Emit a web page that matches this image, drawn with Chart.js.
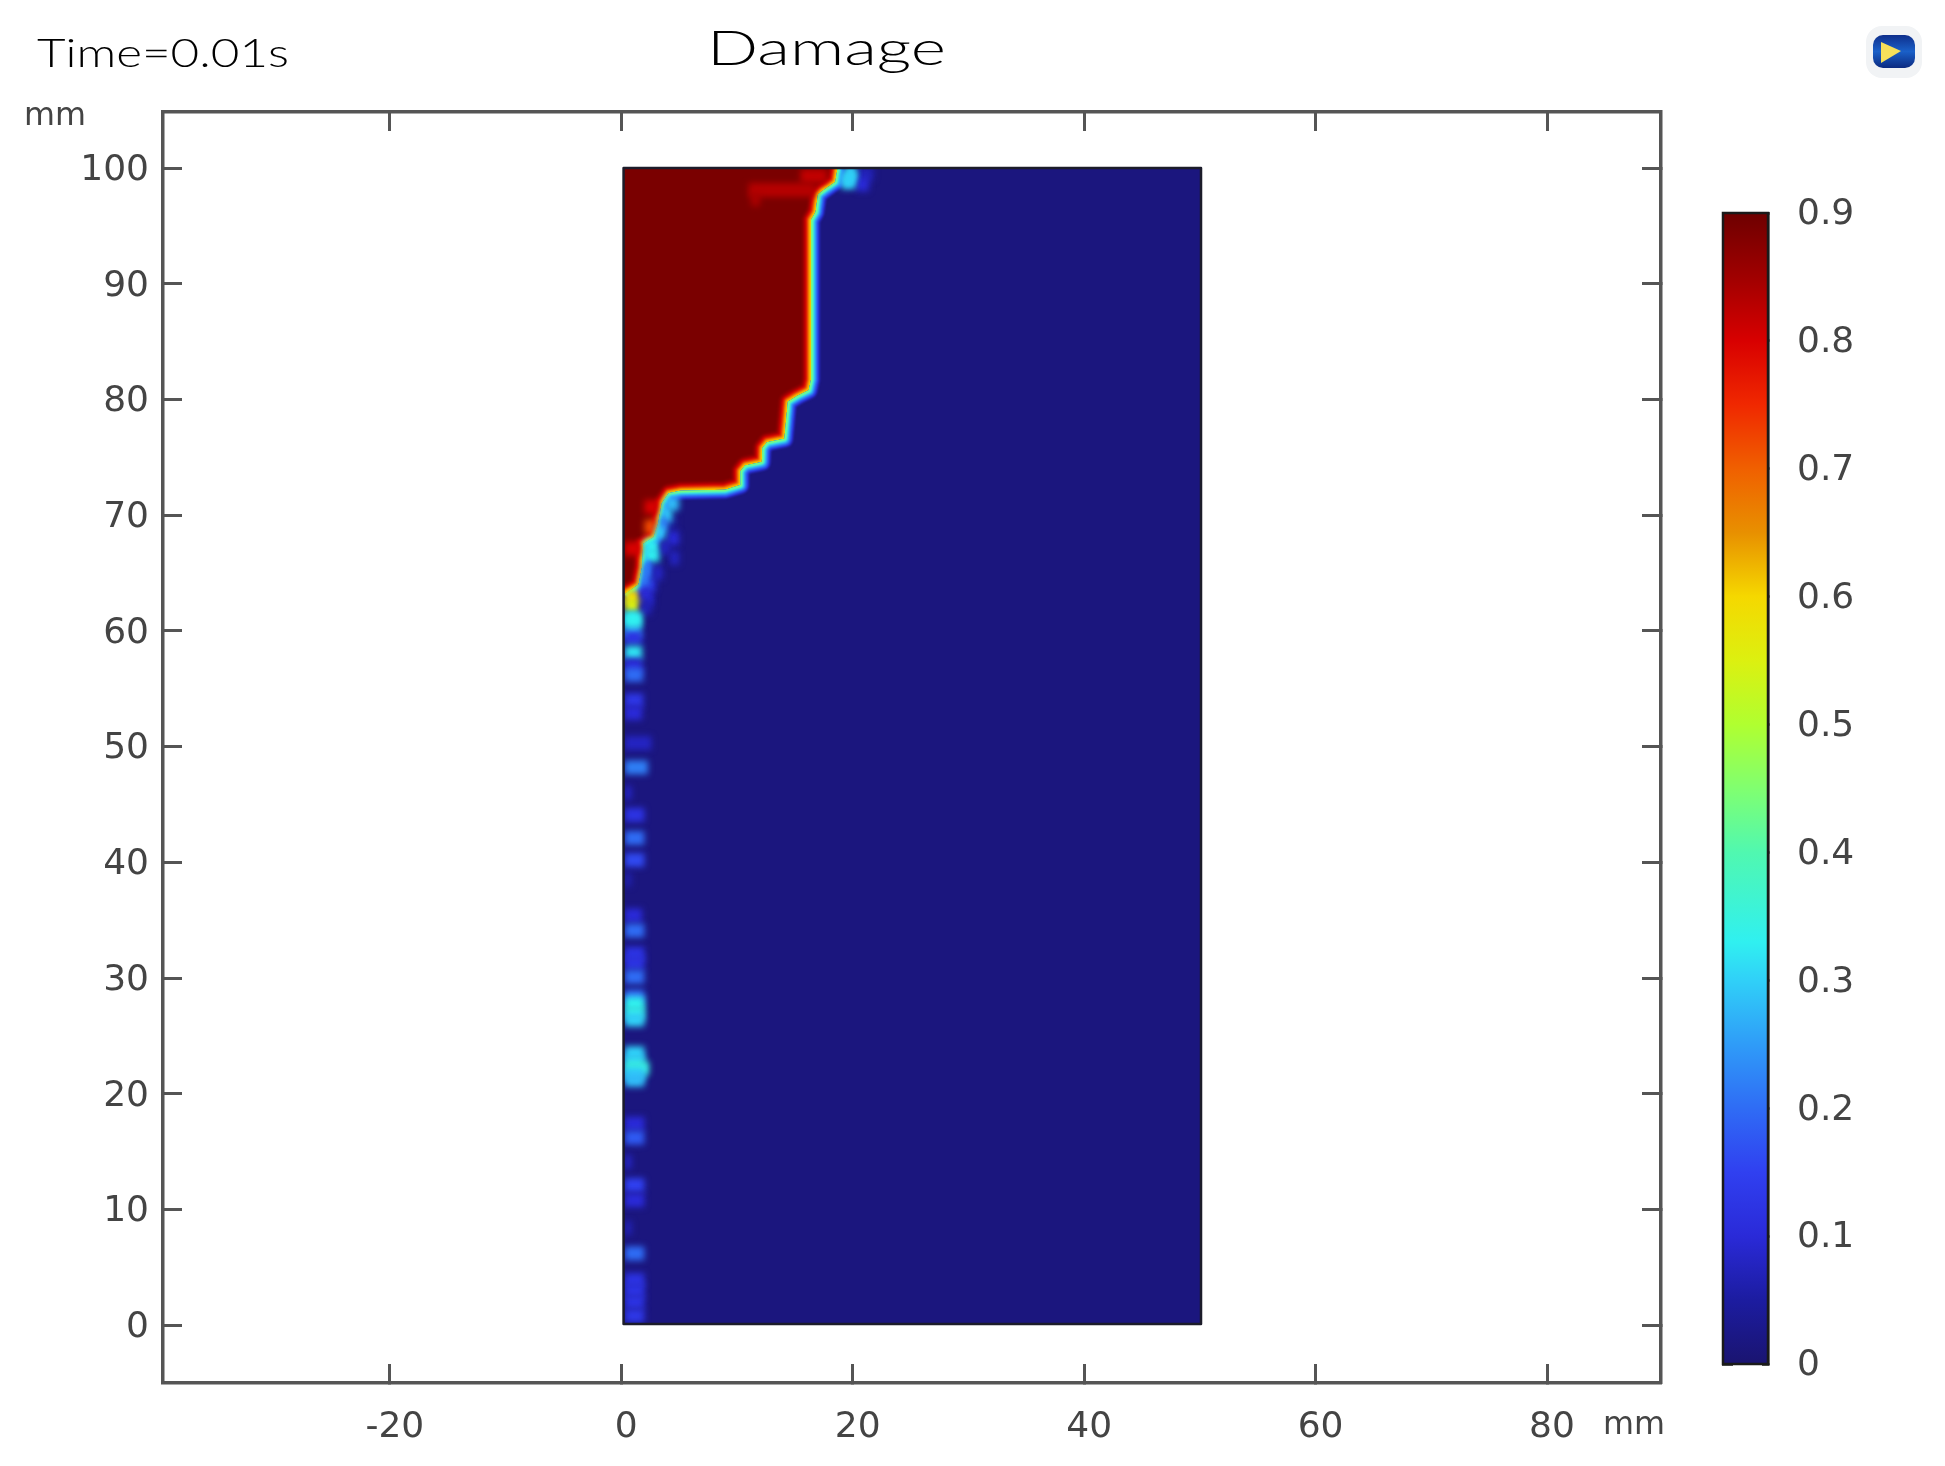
<!DOCTYPE html>
<html>
<head>
<meta charset="utf-8">
<style>
  html, body { margin: 0; padding: 0; background: #fff; }
  #wrap { position: relative; width: 1945px; height: 1466px; overflow: hidden; }
  canvas { position: absolute; left: 0; top: 0; filter: blur(0.6px); }
</style>
<script src="https://cdn.jsdelivr.net/npm/chart.js@4/dist/chart.umd.js"></script>
</head>
<body>
<div id="wrap">
  <canvas id="field" width="1945" height="1466"></canvas>
  <canvas id="legend" width="1945" height="1466"></canvas>
</div>
<script>
// axis ticks, mm
const xTickValues = [-20, 0, 20, 40, 60, 80];
const yTickValues = [0, 10, 20, 30, 40, 50, 60, 70, 80, 90, 100];
const colorTickValues = [0, 0.1, 0.2, 0.3, 0.4, 0.5, 0.6, 0.7, 0.8, 0.9];

// colour table
const colorValues = [0, 0.05, 0.1, 0.15, 0.2, 0.25, 0.3, 0.33, 0.4, 0.45, 0.5, 0.55, 0.6, 0.65, 0.7, 0.75, 0.8, 0.85, 0.9];
const colorStops = ['#1a1470', '#1c1ca0', '#2a2ad8', '#3040f0', '#2f6cf5', '#2f9cf8', '#30d0f8', '#30f0f0', '#50f8b0', '#80ff70',
  '#b0ff30', '#dcf010', '#f5d800', '#e89000', '#f06000', '#f02800', '#d80000', '#a00000', '#6e0000'];

// specimen outline, mm
const plateX = [0.2, 50.1, 50.1, 0.2];
const plateY = [0.1, 0.1, 100, 100];

// damage front, from the top edge down to the left edge
const frontX = [18.7, 18.5, 17.5, 17.0, 16.8, 16.4, 16.4, 16.2, 15.2, 14.4, 14.25, 14.1, 12.6, 12.2, 12.15, 10.7, 10.3, 10.3, 9.0, 5.1, 4.1, 3.5, 3.2, 2.8, 1.9, 1.8, 1.5, 0.8, 0.35];
const frontY = [100, 98.8, 98.1, 97.7, 96.2, 95.5, 81.7, 80.8, 80.3, 79.8, 78.2, 76.6, 76.3, 75.8, 74.6, 74.3, 73.8, 72.6, 72.2, 72.1, 71.9, 71.0, 69.3, 68.1, 67.5, 65.5, 64.0, 63.5, 63.2];

// short damaged patches: height, start, end, damage value
const patchY = [99.5, 99.1, 99.3, 98.1, 97.3, 71.0, 69.3, 68.0, 66.3, 70.7, 69.0, 67.3, 66.5, 67.1, 65.3, 64.0, 62.7,
  62.9, 62.2, 61.0, 60.0, 59.4, 58.1, 57.0, 56.2, 54.0, 52.9, 50.3, 48.2, 46.0, 44.1, 42.1, 40.2, 38.5, 35.4, 34.1, 32.1, 31.3, 30.1, 28.4,
  27.8, 27.0, 26.4, 23.5, 22.8, 22.2, 21.7, 21.2, 17.4, 16.2, 14.1, 12.1, 10.8, 8.4, 6.2, 3.9, 3.0, 2.0, 0.8,
  98.6, 98.8, 99.6, 70.0, 69.2, 68.4, 65.2, 64.2, 63.2, 62.0, 65.0, 67.2, 61.0];
const patchStart = [20.4, 19.2, 15.5, 11.0, 11.2, 3.8, 3.8, 4.0, 4.2, 2.0, 2.0, 2.0, 2.0, 0.3, 2.0, 2.0, 2.0,
  0.3, 0.3, 0.3, 0.3, 0.3, 0.3, 0.3, 0.3, 0.3, 0.3, 0.3, 0.3, 0.3, 0.3, 0.3, 0.3, 0.3, 0.3, 0.3, 0.3, 0.3, 0.3, 0.3,
  0.3, 0.3, 0.3, 0.3, 0.3, 0.3, 0.3, 0.3, 0.3, 0.3, 0.3, 0.3, 0.3, 0.3, 0.3, 0.3, 0.3, 0.3, 0.3,
  20.3, 19.0, 19.3, 3.5, 3.3, 3.0, 1.9, 1.7, 1.6, 1.6, 2.7, 3.4, 0.3];
const patchEnd = [21.8, 20.3, 17.8, 16.8, 12.0, 5.0, 4.8, 5.0, 5.0, 3.2, 3.0, 3.3, 3.3, 1.7, 2.6, 3.0, 2.8,
  1.6, 1.6, 1.6, 1.7, 1.8, 1.8, 1.8, 1.9, 1.9, 1.8, 2.6, 2.3, 0.9, 2.0, 2.0, 2.0, 0.9, 1.8, 2.0, 2.0, 2.0, 2.0, 2.0,
  2.0, 2.0, 2.0, 2.0, 2.0, 2.4, 2.0, 2.0, 2.0, 2.0, 0.9, 2.0, 2.0, 0.9, 2.0, 2.0, 2.0, 2.0, 2.0,
  21.4, 20.2, 20.3, 4.4, 4.0, 3.8, 2.7, 2.4, 2.6, 2.6, 3.6, 4.2, 1.8];
const patchValue = [0.07, 0.32, 0.82, 0.83, 0.84, 0.28, 0.04, 0.1, 0.08, 0.8, 0.72, 0.33, 0.33, 0.8, 0.2, 0.12, 0.08,
  0.6, 0.55, 0.33, 0.28, 0.12, 0.32, 0.1, 0.2, 0.13, 0.1, 0.08, 0.22, 0.08, 0.12, 0.2, 0.16, 0.06, 0.1, 0.2, 0.12, 0.12, 0.2, 0.2,
  0.33, 0.34, 0.3, 0.3, 0.3, 0.35, 0.3, 0.28, 0.1, 0.18, 0.08, 0.15, 0.1, 0.07, 0.2, 0.12, 0.12, 0.12, 0.13,
  0.1, 0.3, 0.3, 0.3, 0.22, 0.3, 0.22, 0.22, 0.1, 0.07, 0.08, 0.08, 0.33];

const xMin = -39.6, xMax = 89.85, yMin = -5, yMax = 104.84;
const frameColor = '#555';
const labelColor = '#444';
const labelFont = { family: 'DejaVu Sans', size: 36 };

function hexRgb(h) {
  return [1, 3, 5].map(i => parseInt(h.slice(i, i + 2), 16));
}

// look a damage value up in the legend table
function damageColor(v) {
  let i = 0;
  while (i < colorValues.length - 2 && v > colorValues[i + 1]) i++;
  const t = Math.min(1, Math.max(0, (v - colorValues[i]) / (colorValues[i + 1] - colorValues[i])));
  const a = hexRgb(colorStops[i]), b = hexRgb(colorStops[i + 1]);
  return `rgb(${a.map((c, k) => Math.round(c + (b[k] - c) * t)).join(',')})`;
}

const toPoints = (xs, ys) => xs.map((x, i) => ({ x, y: ys[i] }));
const front = toPoints(frontX, frontY);
const plate = toPoints(plateX, plateY);
const damagedPoly = [{ x: plateX[0], y: 100 }, ...front, { x: plateX[0], y: frontY[frontY.length - 1] }];
const intactPoly = [...front, { x: plateX[0], y: frontY[frontY.length - 1] }, { x: plateX[0], y: 0 }, { x: plateX[1], y: 0 }, { x: plateX[1], y: 100 }];

const patchPoints = [];
patchY.forEach((y, i) => {
  patchPoints.push({ x: patchStart[i], y, v: patchValue[i] }, { x: patchEnd[i], y, v: patchValue[i] }, { x: null, y: null });
});

const base = { showLine: true, pointRadius: 0, pointHoverRadius: 0, borderJoinStyle: 'round', borderCapStyle: 'butt', tension: 0 };
const filled = (data, color) => ({ ...base, data, fill: 'shape', backgroundColor: color, borderWidth: 0 });
const frontBand = (color, width, clipTo) => ({ ...base, data: front, borderColor: color, borderWidth: width, fill: false, clipTo, blur: 1.3 });

// paint order, bottom layer first
const layers = [
  filled(plate, damageColor(0.015)),
  filled(damagedPoly, '#7a0000'),
  frontBand(damageColor(0.86), 18, damagedPoly),
  frontBand(damageColor(0.8), 13, damagedPoly),
  frontBand(damageColor(0.7), 8, damagedPoly),
  frontBand(damageColor(0.6), 3.5, damagedPoly),
  frontBand(damageColor(0.12), 17, intactPoly),
  frontBand(damageColor(0.23), 12, intactPoly),
  frontBand(damageColor(0.33), 7, intactPoly),
  frontBand(damageColor(0.47), 3, intactPoly),
  {
    ...base, data: patchPoints, fill: false, borderWidth: 14, blur: 3.2, spanGaps: false, borderColor: '#000',
    segment: { borderColor: c => damageColor(patchPoints[c.p0DataIndex].v) }
  },
  { ...base, data: [...plate, plate[0]], fill: false, borderColor: '#1c1c2a', borderWidth: 2.5, blur: 0.5, noClip: true }
];

function tracePoly(chart, poly) {
  const { x, y } = chart.scales;
  const ctx = chart.ctx;
  ctx.beginPath();
  poly.forEach((p, i) => {
    const px = x.getPixelForValue(p.x), py = y.getPixelForValue(p.y);
    if (i === 0) ctx.moveTo(px, py); else ctx.lineTo(px, py);
  });
  ctx.closePath();
}

// clip each layer to the plate (and its side of the front) and soften it like the resampled image
const softLayers = {
  id: 'softLayers',
  beforeDatasetDraw(chart, args) {
    const ds = chart.data.datasets[args.index];
    const ctx = chart.ctx;
    ctx.save();
    if (!ds.noClip) {
      tracePoly(chart, plate);
      ctx.clip();
    }
    if (ds.clipTo) {
      tracePoly(chart, ds.clipTo);
      ctx.clip();
    }
    if (ds.blur) ctx.filter = `blur(${ds.blur}px)`;
  },
  afterDatasetDraw(chart) {
    chart.ctx.restore();
  }
};

// stretched wide caption, fitted to the width it has in the figure
function wideText(ctx, text, left, width, baseline, font, color) {
  ctx.save();
  ctx.font = font;
  ctx.fillStyle = color;
  ctx.textAlign = 'left';
  ctx.textBaseline = 'alphabetic';
  const sx = width / ctx.measureText(text).width;
  ctx.translate(left, baseline);
  ctx.scale(sx, 1);
  ctx.fillText(text, 0, 0);
  ctx.restore();
}

const captions = {
  id: 'captions',
  afterDraw(chart) {
    const ctx = chart.ctx;
    wideText(ctx, 'Time=0.01s', 37, 252, 67, '300 39px Lato', '#000');
    wideText(ctx, 'Damage', 707, 239, 65, '300 48px Lato', '#000');
    wideText(ctx, 'mm', 24, 62, 125, '32px "DejaVu Sans"', labelColor);
    wideText(ctx, 'mm', 1603, 62, 1434, '32px "DejaVu Sans"', labelColor);

    // software badge, top right
    ctx.save();
    ctx.fillStyle = '#f1f3f5';
    ctx.beginPath();
    ctx.roundRect(1866, 26, 56, 52, 16);
    ctx.fill();
    const g = ctx.createLinearGradient(0, 35, 0, 68);
    g.addColorStop(0, '#0f2f8c');
    g.addColorStop(0.5, '#1a60c8');
    g.addColorStop(1, '#0c2a80');
    ctx.fillStyle = g;
    ctx.beginPath();
    ctx.roundRect(1873, 35, 42, 33, 10);
    ctx.fill();
    ctx.fillStyle = '#f6e05a';
    ctx.beginPath();
    ctx.moveTo(1881, 42);
    ctx.lineTo(1901, 51);
    ctx.lineTo(1881, 63);
    ctx.closePath();
    ctx.fill();
    ctx.restore();
  }
};

const tickSet = values => function (scale) {
  scale.ticks = values.map(value => ({ value }));
};

const frameGrid = { drawOnChartArea: false, drawTicks: true, tickLength: -19, tickWidth: 3, tickColor: frameColor };
const frameBorder = { display: true, color: frameColor, width: 3.5 };

new Chart(document.getElementById('field'), {
  type: 'scatter',
  data: { datasets: layers.slice().reverse() },
  options: {
    responsive: false,
    animation: false,
    devicePixelRatio: 1,
    layout: { padding: { left: 0, right: 284, top: 112, bottom: 0 } },
    plugins: { legend: { display: false }, tooltip: { enabled: false } },
    scales: {
      x: {
        type: 'linear', position: 'bottom', min: xMin, max: xMax,
        afterBuildTicks: tickSet(xTickValues),
        afterFit(s) { s.height = 83; },
        grid: frameGrid, border: frameBorder,
        ticks: { autoSkip: false, maxRotation: 0, padding: 42, labelOffset: 5, color: labelColor, font: labelFont }
      },
      y: {
        type: 'linear', position: 'left', min: yMin, max: yMax,
        afterBuildTicks: tickSet(yTickValues),
        afterFit(s) { s.width = 163; },
        grid: frameGrid, border: frameBorder,
        ticks: { autoSkip: false, padding: 33, labelOffset: 2.5, color: labelColor, font: labelFont }
      },
      xTop: {
        type: 'linear', position: 'top', min: xMin, max: xMax,
        afterBuildTicks: tickSet(xTickValues),
        afterFit(s) { s.height = 0; },
        grid: frameGrid, border: frameBorder,
        ticks: { display: false }
      },
      yRight: {
        type: 'linear', position: 'right', min: yMin, max: yMax,
        afterBuildTicks: tickSet(yTickValues),
        afterFit(s) { s.width = 0; },
        grid: frameGrid, border: frameBorder,
        ticks: { display: false }
      }
    }
  },
  plugins: [softLayers, captions]
});

// legend bar
const legendGrid = { drawOnChartArea: false, drawTicks: true, tickWidth: 2.5, tickColor: '#1a1a1a' };

new Chart(document.getElementById('legend'), {
  type: 'bar',
  data: {
    labels: ['Damage'],
    datasets: [{
      data: [colorValues[colorValues.length - 1]],
      barPercentage: 1,
      categoryPercentage: 1,
      borderWidth: 0,
      backgroundColor(c) {
        const { chartArea, scales, ctx } = c.chart;
        if (!chartArea) return colorStops[0];
        const top = scales.y.getPixelForValue(0.9), bottom = scales.y.getPixelForValue(0);
        const g = ctx.createLinearGradient(0, bottom, 0, top);
        colorValues.forEach((v, i) => g.addColorStop(v / 0.9, colorStops[i]));
        return g;
      }
    }]
  },
  options: {
    responsive: false,
    animation: false,
    devicePixelRatio: 1,
    layout: { padding: { left: 0, right: 0, top: 213, bottom: 102 } },
    plugins: { legend: { display: false }, tooltip: { enabled: false } },
    scales: {
      x: { display: false },
      y: {
        type: 'linear', position: 'right', min: 0, max: 0.9,
        afterBuildTicks: tickSet(colorTickValues),
        afterFit(s) { s.width = 177; },
        grid: { ...legendGrid, tickLength: -6 },
        border: { display: true, color: '#1a1a1a', width: 2.5 },
        ticks: {
          padding: 35, labelOffset: 2, color: labelColor, font: labelFont, autoSkip: false,
          callback: v => String(v)
        }
      },
      yLeft: {
        type: 'linear', position: 'left', min: 0, max: 0.9,
        afterBuildTicks: tickSet(colorTickValues),
        afterFit(s) { s.width = 1723; },
        grid: { ...legendGrid, tickLength: -10 },
        border: { display: true, color: '#1a1a1a', width: 2.5 },
        ticks: { display: false }
      }
    }
  },
  plugins: [{
    id: 'barEnds',
    afterDraw(chart) {
      const { left, right, top, bottom } = chart.chartArea;
      const ctx = chart.ctx;
      ctx.save();
      ctx.strokeStyle = '#1a1a1a';
      ctx.lineWidth = 2.5;
      ctx.strokeRect(left, top, right - left, bottom - top);
      ctx.restore();
    }
  }]
});
</script>
</body>
</html>
